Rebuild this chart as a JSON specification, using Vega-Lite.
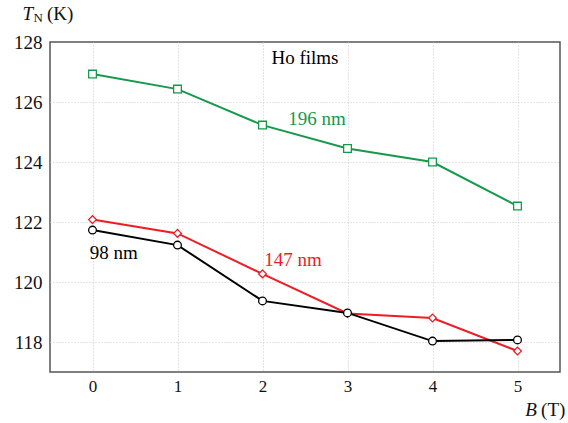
{
  "$schema": "https://vega.github.io/schema/vega-lite/v6.json",
  "width": 510,
  "height": 330,
  "autosize": {"type": "none"},
  "padding": {"left": 50, "top": 42, "right": 8, "bottom": 51},
  "background": "white",
  "config": {
    "font": "Liberation Serif",
    "view": {"stroke": "#555555", "strokeWidth": 1.5},
    "text": {"font": "Liberation Serif"},
    "axis": {
      "grid": true, "gridColor": "#c8c8c8", "gridDash": [1, 2], "gridWidth": 1,
      "domain": false, "ticks": false,
      "labelFont": "Liberation Serif", "labelColor": "#111111", "title": null
    }
  },
  "datasets": {
    "series": [
      {"B": 0, "TN": 126.93, "film": "196 nm"},
      {"B": 1, "TN": 126.43, "film": "196 nm"},
      {"B": 2, "TN": 125.23, "film": "196 nm"},
      {"B": 3, "TN": 124.45, "film": "196 nm"},
      {"B": 4, "TN": 124.0, "film": "196 nm"},
      {"B": 5, "TN": 122.53, "film": "196 nm"},
      {"B": 0, "TN": 122.08, "film": "147 nm"},
      {"B": 1, "TN": 121.62, "film": "147 nm"},
      {"B": 2, "TN": 120.27, "film": "147 nm"},
      {"B": 3, "TN": 118.95, "film": "147 nm"},
      {"B": 4, "TN": 118.8, "film": "147 nm"},
      {"B": 5, "TN": 117.7, "film": "147 nm"},
      {"B": 0, "TN": 121.73, "film": "98 nm"},
      {"B": 1, "TN": 121.23, "film": "98 nm"},
      {"B": 2, "TN": 119.37, "film": "98 nm"},
      {"B": 3, "TN": 118.97, "film": "98 nm"},
      {"B": 4, "TN": 118.03, "film": "98 nm"},
      {"B": 5, "TN": 118.07, "film": "98 nm"}
    ],
    "labels": [
      {"B": 2.5, "TN": 127.47, "text": "Ho films", "film": "Ho"},
      {"B": 2.64, "TN": 125.43, "text": "196 nm", "film": "196 nm"},
      {"B": 2.36, "TN": 120.73, "text": "147 nm", "film": "147 nm"},
      {"B": 0.25, "TN": 120.97, "text": "98 nm", "film": "98 nm"}
    ],
    "italic": [
      {"B": -0.76, "TN": 128.93, "text": "T"},
      {"B": 5.16, "TN": 115.73, "text": "B"}
    ],
    "upright": [
      {"B": -0.38, "TN": 128.93, "text": "(K)"},
      {"B": 5.42, "TN": 115.73, "text": "(T)"}
    ],
    "sub": [
      {"B": -0.64, "TN": 128.8, "text": "N"}
    ]
  },
  "encoding": {
    "x": {"field": "B", "type": "quantitative",
      "scale": {"domain": [-0.5, 5.5], "nice": false, "zero": false},
      "axis": {"values": [0, 1, 2, 3, 4, 5], "labelFont": "Liberation Serif", "labelFontSize": 17, "labelPadding": 6, "format": "d"}},
    "y": {"field": "TN", "type": "quantitative",
      "scale": {"domain": [117, 128], "nice": false, "zero": false},
      "axis": {"values": [118, 120, 122, 124, 126, 128], "labelFont": "Liberation Serif", "labelFontSize": 19, "labelPadding": 8, "format": "d",
        "gridOpacity": {"condition": {"test": "datum.value == 128", "value": 0}, "value": 1}}}
  },
  "layer": [
    {
      "data": {"name": "series"},
      "mark": {"type": "line", "strokeWidth": 2},
      "encoding": {
        "color": {"field": "film", "type": "nominal", "legend": null,
          "scale": {"domain": ["196 nm", "147 nm", "98 nm", "Ho"], "range": ["#16994a", "#ee1c25", "#000000", "#000000"]}},
        "detail": {"field": "film"}
      }
    },
    {
      "data": {"name": "series"},
      "mark": {"type": "point", "filled": false, "fill": "white", "fillOpacity": 1, "strokeWidth": 1.3, "size": 60, "opacity": 1},
      "encoding": {
        "stroke": {"field": "film", "type": "nominal", "legend": null,
          "scale": {"domain": ["196 nm", "147 nm", "98 nm", "Ho"], "range": ["#16994a", "#ee1c25", "#000000", "#000000"]}},
        "shape": {"field": "film", "type": "nominal", "legend": null,
          "scale": {"domain": ["196 nm", "147 nm", "98 nm"], "range": ["square", "diamond", "circle"]}}
      }
    },
    {
      "data": {"name": "labels"},
      "mark": {"type": "text", "font": "Liberation Serif", "fontSize": 19, "align": "center", "baseline": "middle"},
      "encoding": {
        "text": {"field": "text"},
        "color": {"field": "film", "type": "nominal", "legend": null}
      }
    },
    {
      "data": {"name": "italic"},
      "mark": {"type": "text", "font": "Liberation Serif", "fontSize": 19, "fontStyle": "italic", "align": "center", "baseline": "middle", "clip": false, "color": "#111111"},
      "encoding": {"text": {"field": "text"}}
    },
    {
      "data": {"name": "upright"},
      "mark": {"type": "text", "font": "Liberation Serif", "fontSize": 19, "align": "center", "baseline": "middle", "clip": false, "color": "#111111"},
      "encoding": {"text": {"field": "text"}}
    },
    {
      "data": {"name": "sub"},
      "mark": {"type": "text", "font": "Liberation Serif", "fontSize": 13, "align": "center", "baseline": "middle", "clip": false, "color": "#111111"},
      "encoding": {"text": {"field": "text"}}
    }
  ]
}
